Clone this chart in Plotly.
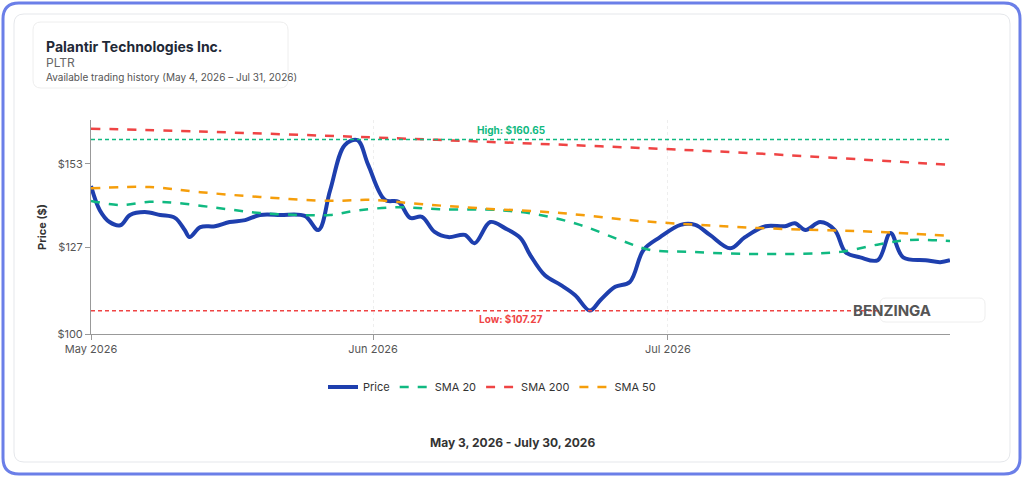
import plotly.graph_objects as go

# day index from May 4, 2026 (axis is drawn in these units)
price_day = [0, 0.9, 1.9, 3, 4, 5.5, 7.1, 8.6, 9.6, 10.1, 11.2, 12.7, 14.2, 15.8, 17.3, 19.4,
             21.9, 23.3, 24.5, 26.0, 27.3, 28.4, 30.1, 31.5, 32.7, 33.9, 35.2, 36.6, 38.3, 39.3,
             40.9, 42.4, 44.0, 45.0, 46.5, 48.1, 49.6, 51.1, 52.2, 53.7, 55.2, 56.6, 58.3, 60.4,
             61.9, 63.4, 65.5, 67.0, 69.1, 71.1, 72.1, 73.2, 74.7, 76.2, 77.3, 78.8, 80.6, 81.9,
             83.2, 85.5, 87.0, 88.0]
price = [146.1, 138.6, 134.9, 133.9, 137.1, 138.0, 137.1, 136.2, 132.4, 130.2, 133.3, 133.6,
         134.9, 135.5, 137.1, 137.1, 136.8, 132.4, 144.8, 158.9, 160.4, 152.7, 141.8, 141.2,
         136.2, 136.5, 131.8, 130.2, 130.9, 128.3, 134.9, 133.0, 129.9, 124.6, 118.3, 115.3,
         112.1, 107.3, 110.6, 114.7, 116.2, 126.2, 130.2, 134.0, 134.0, 130.9, 126.7, 130.2,
         133.6, 133.6, 134.5, 132.4, 134.9, 132.4, 125.5, 123.9, 123.0, 131.5, 123.9, 123.0,
         122.4, 123.0]

sma20_day = [0, 3, 6, 8.6, 13.2, 17.3, 21.4, 24.5, 27.5, 31.6, 35.7, 41.9, 46.0, 50.1, 54.2,
             57.3, 61.4, 66.5, 72.7, 76.8, 80.8, 83.9, 88.0]
sma20 = [141.5, 140.2, 141.2, 140.9, 139.2, 137.7, 137.1, 137.1, 138.6, 139.5, 138.9, 138.6,
         137.1, 134.0, 129.3, 126.2, 125.6, 125.0, 125.0, 125.6, 128.0, 129.3, 129.0]

sma50_day = [0, 6, 11.2, 17.3, 24.5, 28.6, 33.7, 39.8, 48.1, 56.3, 62.4, 68.6, 74.7, 80.8, 88.0]
sma50 = [145.4, 145.8, 144.2, 142.7, 141.5, 141.8, 140.5, 139.2, 137.7, 135.2, 134.0, 133.0,
         132.4, 131.8, 130.6]

sma200_day = [0, 11.2, 28.6, 39.8, 52.2, 67.5, 88.0]
sma200 = [164.0, 163.1, 161.3, 160.0, 158.5, 156.4, 152.7]

high_val = 160.65
low_val = 107.27

tick_days = [0, 28.9, 59.1]
tick_text = ["May 2026", "Jun 2026", "Jul 2026"]

W, H = 1024, 477


def px(v):
    return v / W


def py(v):
    return 1 - v / H


def rounded(x0, y0, x1, y1, r):
    # rounded rectangle path, pixel coords -> paper fractions
    pts = [(x0 + r, y0), (x1 - r, y0), (x1, y0), (x1, y0 + r), (x1, y1 - r), (x1, y1),
           (x1 - r, y1), (x0 + r, y1), (x0, y1), (x0, y1 - r), (x0, y0 + r), (x0, y0), (x0 + r, y0)]
    p = [(px(a), py(b)) for a, b in pts]
    return ("M {},{} L {},{} Q {},{} {},{} L {},{} Q {},{} {},{} L {},{} Q {},{} {},{} "
            "L {},{} Q {},{} {},{} Z").format(*[c for pt in p for c in pt])


fig = go.Figure()

fig.add_trace(go.Scatter(x=price_day, y=price, name="Price", mode="lines",
                         line=dict(color="#1e3fae", width=4, shape="spline")))
fig.add_trace(go.Scatter(x=sma20_day, y=sma20, name="SMA 20", mode="lines",
                         line=dict(color="#10b981", width=2.5, dash="dash", shape="spline")))
fig.add_trace(go.Scatter(x=sma200_day, y=sma200, name="SMA 200", mode="lines",
                         line=dict(color="#ef4444", width=2.5, dash="dash", shape="spline")))
fig.add_trace(go.Scatter(x=sma50_day, y=sma50, name="SMA 50", mode="lines",
                         line=dict(color="#f59e0b", width=2.5, dash="dash", shape="spline")))

# high / low reference lines
fig.add_hline(y=high_val, line=dict(color="#10b981", width=1.5, dash="4px,3px"))
fig.add_hline(y=low_val, line=dict(color="#ef4444", width=1.5, dash="4px,3px"))
fig.add_annotation(x=43, y=high_val, text="<b>High: $%.2f</b>" % high_val, showarrow=False,
                   yanchor="bottom", font=dict(color="#10b981", size=10))
fig.add_annotation(x=43, y=low_val, text="<b>Low: $%.2f</b>" % low_val, showarrow=False,
                   yanchor="top", font=dict(color="#ef4444", size=10))

fig.update_xaxes(range=[0, 88], tickvals=tick_days, ticktext=tick_text, domain=[px(91), px(950)],
                 showgrid=True, gridcolor="#eeeeee", griddash="dot", automargin=False,
                 showline=True, linecolor="#999999", ticks="outside", ticklen=5,
                 tickcolor="#999999", zeroline=False, tickfont=dict(color="#555", size=11))
fig.update_yaxes(range=[100, 166.7], tickvals=[100, 127, 153], ticktext=["$100", "$127", "$153"],
                 domain=[py(334), py(120)], automargin=False,
                 showgrid=False, showline=True, linecolor="#999999", ticks="outside", ticklen=5,
                 tickcolor="#999999", zeroline=False, tickfont=dict(color="#555", size=11),
                 title=dict(text="<b>Price ($)</b>", font=dict(size=11, color="#333"), standoff=8))

fig.update_layout(
    width=W, height=H,
    margin=dict(l=0, r=0, t=0, b=0),
    paper_bgcolor="white", plot_bgcolor="white",
    font=dict(family="Inter, Roboto, sans-serif", color="#333"),
    showlegend=True,
    legend=dict(orientation="h", x=px(492), xanchor="center", y=py(387), yanchor="middle",
                font=dict(size=11)),
)

fig.add_shape(type="path", path=rounded(3, 3, 1020, 474, 16), line=dict(color="#6b7fe8", width=3),
              xref="paper", yref="paper", layer="above")
fig.add_shape(type="path", path=rounded(14, 14, 1010, 462, 10), line=dict(color="#e5e7eb", width=1),
              xref="paper", yref="paper", layer="above")
fig.add_shape(type="path", path=rounded(33, 22, 288, 88, 8), line=dict(color="#eeeeee", width=1),
              xref="paper", yref="paper", layer="above")
fig.add_shape(type="path", path=rounded(880, 298, 985, 322, 6), line=dict(color="#eeeeee", width=1),
              fillcolor="white", xref="paper", yref="paper", layer="above")

fig.add_annotation(xref="paper", yref="paper", x=px(44), y=py(46), xanchor="left", yanchor="middle",
                   text="<b>Palantir Technologies Inc.</b>", showarrow=False,
                   font=dict(size=14, color="#1f2937"))
fig.add_annotation(xref="paper", yref="paper", x=px(44), y=py(62), xanchor="left", yanchor="middle",
                   text="PLTR", showarrow=False, font=dict(size=12, color="#666"))
fig.add_annotation(xref="paper", yref="paper", x=px(44), y=py(77), xanchor="left", yanchor="middle",
                   text="Available trading history (May 4, 2026 – Jul 31, 2026)", showarrow=False,
                   font=dict(size=10, color="#555"))
fig.add_annotation(xref="paper", yref="paper", x=px(933), y=py(310), text="<b>BENZINGA</b>",
                   showarrow=False, font=dict(size=15, color="#555"))
fig.add_annotation(xref="paper", yref="paper", x=px(512), y=py(452),
                   text="<b>May 3, 2026 - July 30, 2026</b>",
                   showarrow=False, font=dict(size=12, color="#333"))

fig.write_html("out.html", config={"displayModeBar": False},
               post_script="document.body.style.margin='0';document.body.style.overflow='hidden';")
